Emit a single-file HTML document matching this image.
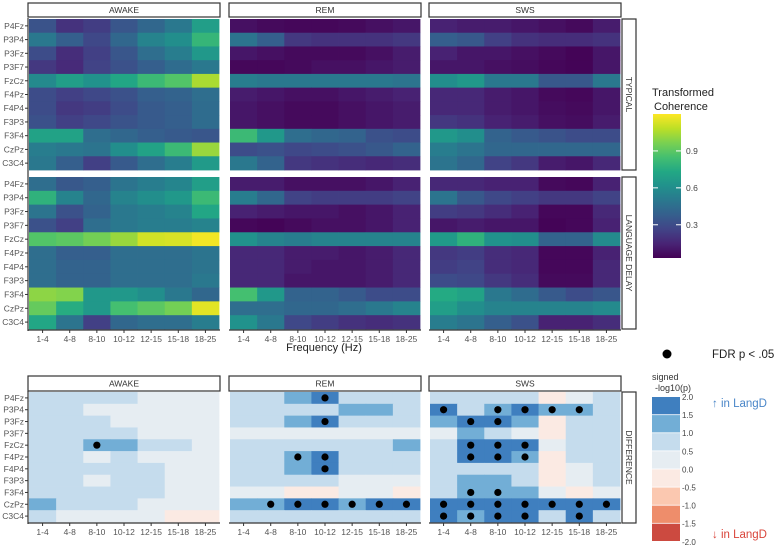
<!DOCTYPE html>
<html><head><meta charset="utf-8"><style>
body{margin:0;background:#fff;}
svg{display:block;font-family:"Liberation Sans",sans-serif;}
</style></head><body>
<svg id="c" width="777" height="549" viewBox="0 0 777 549"></svg>
<script>
const rows=["P4Fz","P3P4","P3Fz","P3F7","FzCz","F4Pz","F4P4","F3P3","F3F4","CzPz","C3C4"];
const freqs=["1-4","4-8","8-10","10-12","12-15","15-18","18-25"];
const states=["AWAKE","REM","SWS"];
const groups=["TYPICAL","LANGUAGE DELAY"];
const cbTicks=[0.3,0.6,0.9];
const diffTicks=["2.0","1.5","1.0","0.5","0.0","-0.5","-1.0","-1.5","-2.0"];
const awakeTyp=[[.33,.2,.24,.34,.42,.5,.68],[.5,.38,.28,.42,.55,.6,.8],[.3,.18,.25,.34,.45,.52,.65],[.22,.17,.26,.32,.38,.44,.5],[.58,.68,.62,.72,.82,.88,1.05],[.3,.25,.28,.32,.38,.4,.45],[.3,.22,.24,.3,.36,.38,.44],[.32,.25,.28,.33,.36,.38,.44],[.7,.7,.45,.42,.38,.36,.34],[.52,.5,.48,.6,.7,.82,1.02],[.5,.38,.25,.36,.45,.52,.66]];
const remTyp=[[.08,.06,.05,.05,.06,.08,.1],[.48,.38,.22,.2,.2,.2,.22],[.1,.08,.06,.06,.06,.08,.12],[.05,.05,.06,.08,.08,.1,.12],[.52,.5,.5,.5,.5,.5,.48],[.12,.1,.08,.08,.1,.12,.14],[.1,.08,.06,.06,.08,.1,.12],[.1,.08,.06,.06,.08,.1,.12],[.82,.65,.45,.42,.4,.32,.3],[.3,.32,.28,.3,.32,.35,.4],[.5,.4,.22,.2,.18,.16,.18]];
const swsTyp=[[.14,.12,.12,.1,.08,.06,.12],[.38,.35,.25,.2,.18,.18,.2],[.14,.1,.1,.08,.06,.04,.1],[.1,.1,.08,.07,.05,.04,.1],[.6,.65,.5,.5,.35,.35,.5],[.16,.16,.12,.1,.06,.05,.1],[.16,.16,.12,.1,.07,.06,.1],[.22,.2,.14,.12,.08,.07,.12],[.65,.6,.4,.36,.33,.3,.3],[.52,.48,.42,.42,.42,.42,.42],[.48,.42,.26,.22,.12,.1,.16]];
const awakeLD=[[.45,.35,.38,.48,.52,.56,.68],[.78,.55,.42,.55,.6,.65,.82],[.48,.32,.4,.5,.52,.55,.72],[.32,.25,.45,.5,.52,.52,.55],[.88,.9,.95,1.02,1.12,1.13,1.18],[.45,.38,.38,.45,.45,.45,.48],[.45,.4,.4,.45,.45,.45,.48],[.45,.4,.4,.45,.45,.45,.5],[1.0,.98,.65,.65,.6,.5,.42],[.92,.75,.65,.85,.9,.95,1.15],[.72,.48,.25,.42,.45,.45,.52]];
const remLD=[[.12,.12,.08,.08,.08,.1,.14],[.52,.42,.26,.24,.24,.24,.26],[.14,.12,.1,.1,.08,.1,.14],[.05,.04,.06,.08,.08,.1,.14],[.62,.55,.52,.55,.55,.55,.55],[.16,.16,.12,.12,.1,.12,.16],[.16,.16,.12,.1,.1,.12,.16],[.16,.16,.1,.1,.1,.12,.16],[.85,.65,.4,.4,.36,.3,.3],[.45,.45,.42,.42,.45,.5,.55],[.62,.5,.28,.24,.2,.18,.2]];
const swsLD=[[.16,.16,.14,.14,.06,.05,.14],[.48,.35,.28,.25,.22,.22,.26],[.24,.22,.18,.14,.05,.05,.16],[.1,.12,.1,.1,.04,.05,.14],[.66,.78,.62,.6,.4,.4,.58],[.22,.24,.18,.16,.05,.05,.14],[.24,.26,.18,.16,.05,.05,.16],[.3,.28,.22,.18,.06,.06,.16],[.74,.7,.5,.44,.36,.3,.34],[.68,.6,.55,.55,.55,.55,.58],[.52,.48,.38,.32,.14,.14,.18]];
const awakeDiff=[[.75,.75,.75,.75,.25,.25,.25],[.75,.75,.25,.25,.25,.25,.25],[.75,.75,.75,.25,.25,.25,.25],[.75,.75,.75,.75,.25,.25,.25],[.75,.75,1.25,1.25,.75,.75,.25],[.75,.75,.25,.75,.25,.25,.25],[.75,.75,.75,.75,.75,.25,.25],[.75,.75,.25,.75,.75,.25,.25],[.75,.75,.75,.75,.75,.25,.25],[1.25,.75,.75,.75,.25,.25,.25],[.75,.25,.25,.25,.25,-.25,-.25]];
const remDiff=[[.75,.75,1.25,1.75,.75,.75,.75],[.75,.75,.75,.75,1.25,1.25,.75],[.75,.75,1.25,1.75,.75,.75,.75],[.25,.25,.25,.25,.25,.25,.25],[.75,.75,.75,.75,.75,.75,1.25],[.75,.75,1.25,1.75,.75,.75,.75],[.75,.75,1.25,1.75,.75,.75,.75],[.75,.75,.75,.75,.25,.25,.25],[.25,.25,-.25,-.25,.25,.25,-.25],[1.25,1.25,1.75,1.75,1.25,1.75,1.75],[.75,.75,.75,.75,.75,.75,.75]];
const swsDiff=[[.75,.75,.75,.75,-.25,.25,.75],[1.75,.75,1.25,1.75,1.25,1.25,.75],[1.25,1.75,1.75,1.25,-.25,.75,.75],[.25,1.25,.75,.25,-.25,.75,.75],[.75,1.75,1.75,1.75,.25,.75,.75],[.75,1.75,1.75,1.25,-.25,.75,.75],[.75,.75,.75,.75,-.25,.25,.75],[.75,1.25,1.25,.75,-.25,.25,.75],[.75,1.25,1.25,1.25,.25,-.25,.25],[1.75,1.75,1.75,1.75,1.75,1.75,1.75],[1.75,1.25,1.75,1.75,.75,1.75,.75]];
const awakeSig=[[4,2]];
const remSig=[[0,3],[2,3],[5,2],[5,3],[6,3],[9,1],[9,2],[9,3],[9,4],[9,5],[9,6]];
const swsSig=[[1,0],[1,2],[1,3],[1,4],[1,5],[2,1],[2,2],[4,1],[4,2],[4,3],[5,1],[5,2],[5,3],[8,1],[8,2],[9,0],[9,1],[9,2],[9,3],[9,4],[9,5],[9,6],[10,0],[10,1],[10,2],[10,3],[10,5]];

const NS="http://www.w3.org/2000/svg";
const svg=document.getElementById('c');
function mk(tag,attrs,parent){const e=document.createElementNS(NS,tag);for(const k in attrs)e.setAttribute(k,attrs[k]);(parent||svg).appendChild(e);return e;}
const vir=["#440154","#482475","#414487","#355f8d","#2a788e","#21918c","#22a884","#44bf70","#7ad151","#bddf26","#fde725"];
function hex(h){return[parseInt(h.slice(1,3),16),parseInt(h.slice(3,5),16),parseInt(h.slice(5,7),16)];}
const vmin=0.03,vmax=1.2;
function viridis(v){let t=Math.max(0,Math.min(1,(v-vmin)/(vmax-vmin)))*(vir.length-1);let i=Math.min(Math.floor(t),vir.length-2),f=t-i;const a=hex(vir[i]),b=hex(vir[i+1]);return`rgb(${a.map((x,j)=>Math.round(x+(b[j]-x)*f)).join(',')})`;}
const diffCols=["#cc4a40","#ee8d6b","#fbc8b0","#fbeae3","#e6edf2","#c5dced","#72aed6","#3f7fbf"];
function diffColor(v){let i=Math.floor((v+2)/0.5);i=Math.max(0,Math.min(7,i));return diffCols[i];}

const panelX=[29,230,430],panelW=190;
const colW=panelW/freqs.length;
function xPos(p,c){return panelX[p]+c*colW;}
const gridY=[19,177,392],gridH=[151,152,130];
function yPos(g,r){return gridY[g]+r*gridH[g]/rows.length;}

function strip(x,y,w,h,label,name,vertical){
  const g=mk('g',{});
  mk('rect',{x,y,width:w,height:h,fill:'#fff',stroke:'#333','stroke-width':1.2},g);
  const t=mk('text',{x:x+w/2,y:y+h/2+3,'text-anchor':'middle','font-size':8.5,fill:'#333'},g);
  if(vertical){t.setAttribute('transform',`rotate(90 ${x+w/2} ${y+h/2})`);t.setAttribute('y',y+h/2+3);}
  t.textContent=label;
}
function rowLabels(g){
  for(let r=0;r<rows.length;r++){
    const y=yPos(g,r)+gridH[g]/rows.length/2;
    const t=mk('text',{x:24,y:y+3,'text-anchor':'end','font-size':8.5,fill:'#555'});
    
    
    t.textContent=rows[r];
    mk('line',{x1:25,x2:28,y1:y,y2:y,stroke:'#333','stroke-width':1});
  }
}
function xLabels(g){
  const yb=gridY[g]+gridH[g]+1;
  for(let p=0;p<3;p++){
    mk('line',{x1:panelX[p]-1,x2:panelX[p]+panelW+1,y1:yb,y2:yb,stroke:'#333','stroke-width':1.2});
    for(let c=0;c<freqs.length;c++){
      const x=xPos(p,c)+colW/2;
      mk('line',{x1:x,x2:x,y1:yb,y2:yb+3,stroke:'#333','stroke-width':1});
      const t=mk('text',{x,y:yb+12,'text-anchor':'middle','font-size':8.5,fill:'#555'});
      
      
      t.textContent=freqs[c];
    }
  }
}
function heat(g,p,data,colorFn,name){
  for(let r=0;r<rows.length;r++)for(let c=0;c<freqs.length;c++){
    const rc=mk('rect',{x:xPos(p,c),y:yPos(g,r),width:colW+0.4,height:gridH[g]/rows.length+0.4,fill:colorFn(data[r][c])});
    
    
  }
}
// strips top
for(let p=0;p<3;p++){strip(panelX[p]-1,3,panelW+2,14,states[p],'strip-'+states[p].toLowerCase());}
strip(622,19,14,151,groups[0],'strip-typical',true);
strip(622,177,14,152,groups[1],'strip-language-delay',true);
const typ=[awakeTyp,remTyp,swsTyp],ld=[awakeLD,remLD,swsLD],df=[awakeDiff,remDiff,swsDiff],sg=[awakeSig,remSig,swsSig];
for(let p=0;p<3;p++){heat(0,p,typ[p],viridis,'typical-'+states[p].toLowerCase());heat(1,p,ld[p],viridis,'langd-'+states[p].toLowerCase());}
mk('line',{x1:28,x2:28,y1:18,y2:331,stroke:'#333','stroke-width':1.2});
rowLabels(0);rowLabels(1);xLabels(1);
const ft=mk('text',{x:324,y:351,'text-anchor':'middle','font-size':11,fill:'#222'});
ft.textContent='Frequency (Hz)';
// bottom
for(let p=0;p<3;p++){strip(panelX[p]-1,376,panelW+2,15,states[p],'strip-diff-'+states[p].toLowerCase());}
strip(622,392,14,131,'DIFFERENCE','strip-difference',true);
for(let p=0;p<3;p++){heat(2,p,df[p],diffColor,'diff-'+states[p].toLowerCase());
  for(const [r,c] of sg[p]){const d=mk('circle',{cx:xPos(2,0)*0+xPos(p,c)+colW/2,cy:yPos(2,r)+gridH[2]/rows.length/2,r:3.6,fill:'#000'});
    }}
mk('line',{x1:28,x2:28,y1:391,y2:524,stroke:'#333','stroke-width':1.2});
rowLabels(2);xLabels(2);
// coherence legend
const lg=mk('g',{});
mk('text',{x:652,y:96,'font-size':11,fill:'#222'},lg).textContent='Transformed';
mk('text',{x:654,y:110,'font-size':11,fill:'#222'},lg).textContent='Coherence';
const gd=mk('linearGradient',{id:'vg',x1:0,y1:1,x2:0,y2:0},mk('defs',{}));
vir.forEach((c,i)=>mk('stop',{offset:i/(vir.length-1),'stop-color':c},gd));
const cbTop=114,cbBot=258;
mk('rect',{x:653,y:cbTop,width:28,height:cbBot-cbTop,fill:'url(#vg)'},lg);
function cbY(v){return cbBot-(v-vmin)/(vmax-vmin)*(cbBot-cbTop);}
for(const v of cbTicks){const y=cbY(v);
  mk('line',{x1:653,x2:658,y1:y,y2:y,stroke:'#fff','stroke-width':1},lg);
  mk('line',{x1:676,x2:681,y1:y,y2:y,stroke:'#fff','stroke-width':1},lg);
  mk('text',{x:686,y:y+3,'font-size':8.5,fill:'#444'},lg).textContent=v.toFixed(1);}
// diff legend
const dl=mk('g',{});
mk('circle',{cx:667,cy:354,r:4.5,fill:'#000'},dl);
mk('text',{x:712,y:358,'font-size':11.5,fill:'#222'},dl).textContent='FDR p < .05';
mk('text',{x:652,y:380,'font-size':9,fill:'#333'},dl).textContent='signed';
mk('text',{x:655,y:391,'font-size':9,fill:'#333'},dl).textContent='-log10(p)';
const dTop=397,dH=18.1;
for(let i=0;i<8;i++){mk('rect',{x:652,y:dTop+i*dH,width:28,height:dH-0.8,fill:diffCols[7-i]},dl);}
diffTicks.forEach((t,i)=>{mk('text',{x:682,y:dTop+i*dH+3,'font-size':8,fill:'#444'},dl).textContent=t;});
mk('text',{x:712,y:407,'font-size':11.5,fill:'#4a86c8'},dl).textContent='↑ in  LangD';
mk('text',{x:712,y:538,'font-size':11.5,fill:'#d9443a'},dl).textContent='↓ in LangD';
</script>
</body></html>
